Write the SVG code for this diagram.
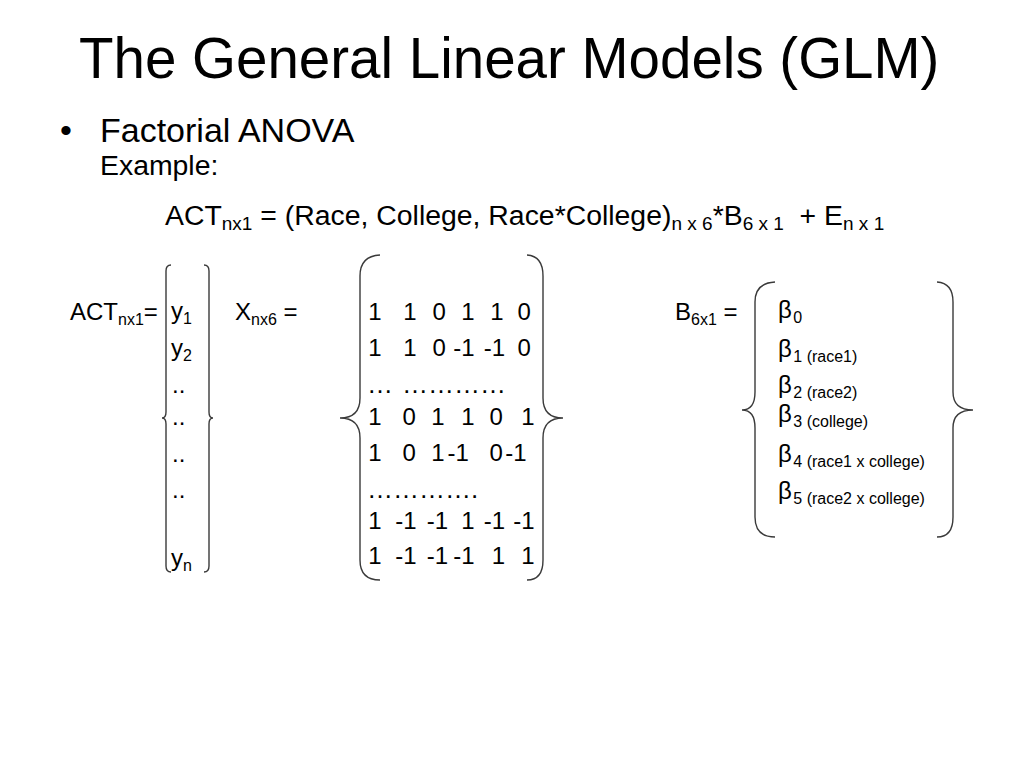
<svg xmlns="http://www.w3.org/2000/svg" width="1024" height="768" viewBox="0 0 1024 768">
<style>
text{font-family:"Liberation Sans",Arial,Helvetica,sans-serif;fill:#000}
.t{font-size:56.5px}
.b1{font-size:34px}
.b2{font-size:28.4px}
.s19{font-size:19px}
.m{font-size:24px}
.d{font-size:26px}
.s16{font-size:16px}
.br{fill:none;stroke:#3a3a3a;stroke-width:1.4}
</style>
<rect width="1024" height="768" fill="#fff"/>
<g id="title"><text class="t" x="79" y="78">The General Linear Models (GLM)</text></g>
<g id="bullets">
<text class="b1" x="60" y="142">•</text>
<text class="b1" x="100" y="142">Factorial ANOVA</text>
<text class="b2" x="100" y="175">Example:</text>
<text class="b2" x="165" y="225" xml:space="preserve">ACT<tspan class="s19" dy="5">nx1</tspan><tspan dy="-5"> = (Race, College, Race*College)</tspan><tspan class="s19" dy="5">n x 6</tspan><tspan dy="-5">*B</tspan><tspan class="s19" dy="5">6 x 1</tspan><tspan dy="-5">  + E</tspan><tspan class="s19" dy="5">n x 1</tspan></text>
</g>
<g id="act-vector">
<text class="m" x="70" y="320">ACT<tspan class="s16" dy="5">nx1</tspan><tspan dy="-5">=</tspan></text>
<path class="br" d="M171,265 Q166,265 166,271 L166,412 Q166,418 162,418 Q166,418 166,424 L166,566 Q166,572 171,572"/>
<path class="br" d="M204,265 Q209,265 209,271 L209,412 Q209,418 213,418 Q209,418 209,424 L209,566 Q209,572 204,572"/>
<text class="m" x="171" y="319">y<tspan class="s16" dy="5">1</tspan></text>
<text class="m" x="171" y="356">y<tspan class="s16" dy="5">2</tspan></text>
<text class="m" x="172" y="393">..</text>
<text class="m" x="172" y="425">..</text>
<text class="m" x="172" y="462">..</text>
<text class="m" x="172" y="498">..</text>
<text class="m" x="171" y="566">y<tspan class="s16" dy="5">n</tspan></text>
</g>
<g id="x-matrix">
<text class="m" x="235" y="320" xml:space="preserve">X<tspan class="s16" dy="5">nx6</tspan><tspan dy="-5"> =</tspan></text>
<path class="br" d="M380,255 Q360,256 360,276 L360,398 Q360,418 340,418 Q360,418 360,438 L360,560 Q360,580 380,580"/>
<path class="br" d="M527,255 Q543,256 543,276 L543,398 Q543,418 563,418 Q543,418 543,438 L543,560 Q543,580 527,580"/>
<text class="m" y="320"><tspan x="368.2">1</tspan><tspan x="403.2">1</tspan><tspan x="432.4">0</tspan><tspan x="461.2">1</tspan><tspan x="490.2">1</tspan><tspan x="517.4">0</tspan></text>
<text class="m" y="356"><tspan x="368.2">1</tspan><tspan x="403.2">1</tspan><tspan x="432.4">0</tspan><tspan x="453.2">-1</tspan><tspan x="483.7">-1</tspan><tspan x="517.4">0</tspan></text>
<text class="d" y="393"><tspan x="367">…</tspan><tspan x="402">…………</tspan></text>
<text class="m" y="425"><tspan x="368.2">1</tspan><tspan x="402.4">0</tspan><tspan x="431.2">1</tspan><tspan x="461.2">1</tspan><tspan x="489.4">0</tspan><tspan x="521.2">1</tspan></text>
<text class="m" y="461"><tspan x="368.2">1</tspan><tspan x="402.4">0</tspan><tspan x="431.2">1</tspan><tspan x="447.5">-1</tspan><tspan x="489.4">0</tspan><tspan x="505.2">-1</tspan></text>
<text class="d" y="498"><tspan x="367">………….</tspan></text>
<text class="m" y="529"><tspan x="368.2">1</tspan><tspan x="395.2">-1</tspan><tspan x="426.7">-1</tspan><tspan x="461.2">1</tspan><tspan x="483.7">-1</tspan><tspan x="513.2">-1</tspan></text>
<text class="m" y="564"><tspan x="368.2">1</tspan><tspan x="395.2">-1</tspan><tspan x="426.7">-1</tspan><tspan x="453.2">-1</tspan><tspan x="491.7">1</tspan><tspan x="521.2">1</tspan></text>
</g>
<g id="b-vector">
<text class="m" x="675" y="320" xml:space="preserve">B<tspan class="s16" dy="5">6x1</tspan><tspan dy="-5"> =</tspan></text>
<path class="br" d="M775,282 Q755,283 755,302 L755,392 Q755,410 742,410 Q755,410 755,428 L755,517 Q755,537 775,537"/>
<path class="br" d="M937,282 Q953,283 953,302 L953,392 Q953,410 973,410 Q953,410 953,428 L953,517 Q953,537 937,537"/>
<text class="m" x="778" y="318">β<tspan class="s16" dx="1.5" dy="5">0</tspan></text>
<text class="m" x="778" y="357" xml:space="preserve">β<tspan class="s16" dx="1.5" dy="5">1 (race1)</tspan></text>
<text class="m" x="778" y="393" xml:space="preserve">β<tspan class="s16" dx="1.5" dy="5">2 (race2)</tspan></text>
<text class="m" x="778" y="422" xml:space="preserve">β<tspan class="s16" dx="1.5" dy="5">3 (college)</tspan></text>
<text class="m" x="778" y="462" xml:space="preserve">β<tspan class="s16" dx="1.5" dy="5">4 (race1 x college)</tspan></text>
<text class="m" x="778" y="499" xml:space="preserve">β<tspan class="s16" dx="1.5" dy="5">5 (race2 x college)</tspan></text>
</g>
</svg>
